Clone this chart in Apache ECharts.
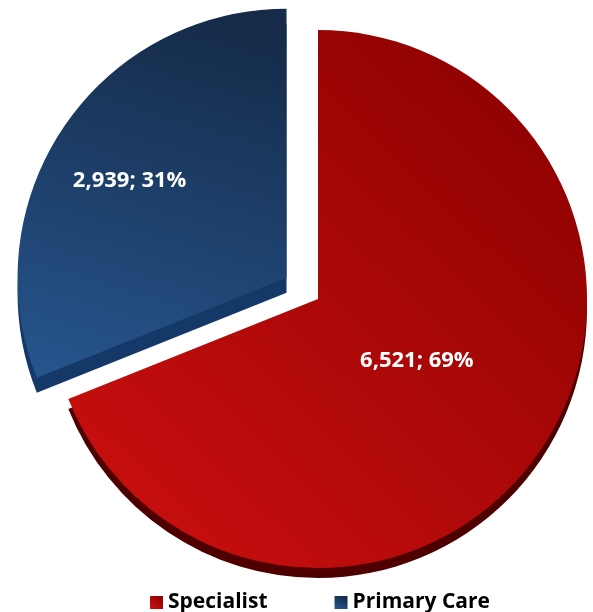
<!DOCTYPE html>
<html>
<head>
<meta charset="utf-8">
<script src="https://cdn.jsdelivr.net/npm/echarts@6/dist/echarts.min.js"></script>
<style>html,body{margin:0;padding:0;background:#fff;}#c{width:593px;height:612px;}</style>
</head>
<body>
<div id="c"></div>
<script>
var categories = ['Specialist', 'Primary Care'];
var values = [6521, 2939];
var percents = [69, 31];

var faceColors = [
  {type:'linear', x:0, y:1, x2:1, y2:0, colorStops:[{offset:0,color:'#cf1010'},{offset:1,color:'#880000'}]},
  {type:'linear', x:0.6, y:0, x2:0.2, y2:1, colorStops:[{offset:0,color:'#152b49'},{offset:1,color:'#26548c'}]}
];
var sideColors = ['#4e0000', '#143868'];

function fmt(n){ return n.toString().replace(/\B(?=(\d{3})+(?!\d))/g, ','); }

var faceData = categories.map(function(c,i){
  return {name:c, value:values[i], selected: i===1, itemStyle:{color:faceColors[i]}};
});
function sideData(k){
  return categories.map(function(c,i){
    return {name:c, value:values[i], selected: i===1, itemStyle:{color: i===k ? sideColors[i] : 'rgba(0,0,0,0)'}};
  });
}

var chart = echarts.init(document.getElementById('c'), null, {renderer:'canvas'});
chart.setOption({
  animation:false,
  legend:{
    data:categories,
    left:145, top:587,
    icon:'rect', itemWidth:13, itemHeight:13, itemGap:67,
    textStyle:{fontFamily:'Open Sans', fontWeight:'bold', fontSize:21, color:'#000'}
  },
  series:[
    {
      type:'pie', name:'face', z:3,
      center:[318,299], radius:[0,269],
      startAngle:90, clockwise:true,
      selectedMode:'single', selectedOffset:38,
      label:{show:true, position:'inside', color:'#fff', fontFamily:'Open Sans', fontWeight:'bold', fontSize:22,
        formatter:function(p){ return fmt(p.value)+'; '+percents[p.dataIndex]+'%'; }},
      labelLayout:function(p){ return p.dataIndex===0 ? {dx:-15, dy:-15} : {dx:-43, dy:-20}; },
      labelLine:{show:false},
      emphasis:{disabled:true},
      data:faceData
    },
    {
      type:'pie', name:'sideRed', z:2, silent:true, legendHoverLink:false,
      center:[318,309], radius:[0,269],
      startAngle:90, clockwise:true,
      selectedMode:'single', selectedOffset:38,
      label:{show:false}, labelLine:{show:false},
      emphasis:{disabled:true},
      data:sideData(0)
    },
    {
      type:'pie', name:'sideBlue', z:2, silent:true, legendHoverLink:false,
      center:[318,314], radius:[0,269],
      startAngle:90, clockwise:true,
      selectedMode:'single', selectedOffset:38,
      label:{show:false}, labelLine:{show:false},
      emphasis:{disabled:true},
      data:sideData(1)
    }
  ]
});
</script>
</body>
</html>
